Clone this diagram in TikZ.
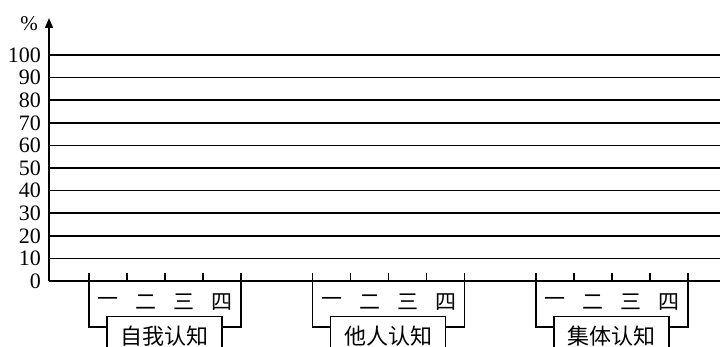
\documentclass[tikz,border=0pt]{standalone}
\usepackage{fontspec}
\setmainfont{Liberation Serif}
\newfontfamily\cjk{Noto Sans CJK SC}
\usetikzlibrary{arrows.meta, positioning, calc}

\begin{document}
\begin{tikzpicture}[
  x=1pt, y=1pt,
  grid/.style={line width=1.5pt},
  tick/.style={line width=1.5pt},
  ylab/.style={anchor=east, inner sep=0pt, font=\fontsize{22}{22}\selectfont},
  num/.style={inner sep=0pt, font=\cjk\fontsize{21}{21}\selectfont},
  box/.style={rectangle, draw, line width=1.5pt, minimum width=115pt, minimum height=38pt, font=\cjk\fontsize{22}{22}\selectfont},
  >={Triangle[length=10pt, width=8pt]}
]
\useasboundingbox (0,0) rectangle (720,347);
\coordinate (O) at (49,66);
\coordinate (top) at (49,329);
\coordinate (end) at (720,66);

% axes
\draw[grid] (O) -- (end);
\draw[grid,->] (O) -- (top);
\node[inner sep=0pt, font=\fontsize{21}{21}\selectfont] (pct) at (29,323) {\%};
\node[ylab] (l0) at (41,66) {0};
\foreach \k in {1,...,10} {
  \node[ylab] (l\k) at (41,66+22.6*\k) {\the\numexpr\k*10\relax};
  \draw[grid] (O |- l\k) -- (end |- l\k);
}

% groups
\foreach \g/\name in {0/自我认知, 1/他人认知, 2/集体认知} {
  \pgfmathsetmacro\xs{89+223.5*\g}
  \foreach \i in {0,...,4}
    \draw[tick] (\xs+38*\i,66) -- ++(0,8);
  \foreach \i/\n in {0/一, 1/二, 2/三, 3/四}
    \node[num] (n\g\i) at (\xs+19+38*\i,45) {\n};
  \coordinate (L\g) at (\xs,66);
  \coordinate (R\g) at (\xs+152,66);
  \node[box, anchor=north] (box\g) at (\xs+75.5,31) {\name};
  \draw[tick] (L\g) |- (box\g.west |- 0,20);
  \draw[tick] (R\g) |- (box\g.east |- 0,20);
}
\end{tikzpicture}
\end{document}
